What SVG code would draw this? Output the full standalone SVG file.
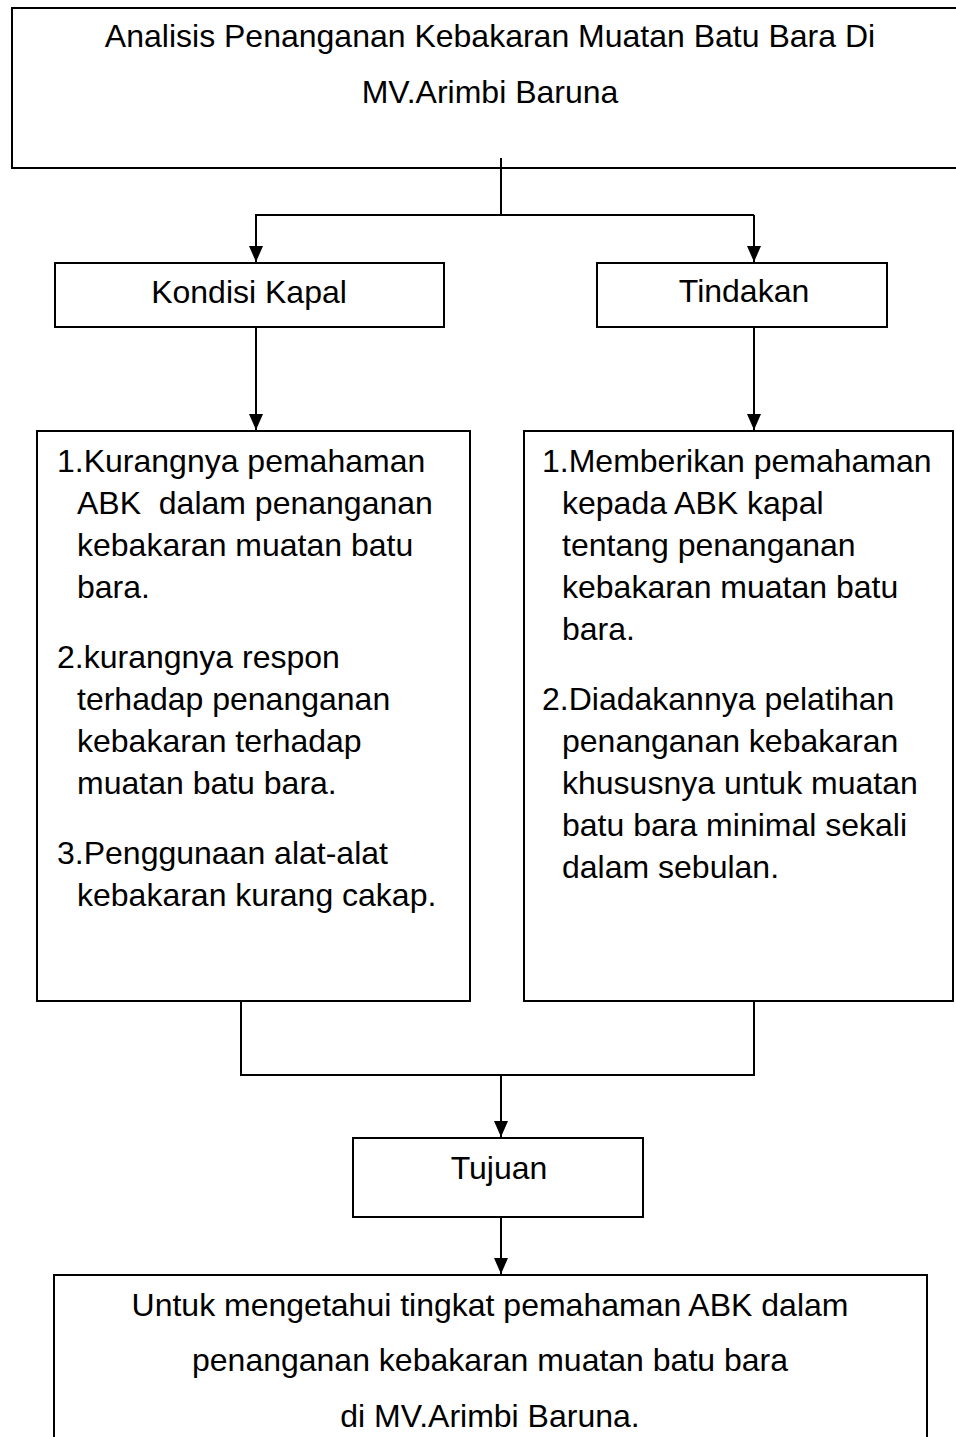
<svg xmlns="http://www.w3.org/2000/svg" width="956" height="1437" viewBox="0 0 956 1437">
<style>
.box{fill:#fff;stroke:#000;stroke-width:2}
.con{fill:none;stroke:#000;stroke-width:2}
text{font-family:"Liberation Sans",Arial,sans-serif;font-size:32px;fill:#000}
.c{text-anchor:middle}
.pre{white-space:pre}
</style>
<defs>
<marker id="arr" markerUnits="userSpaceOnUse" markerWidth="16" markerHeight="14" viewBox="0 0 16 14" refX="16" refY="7" orient="auto">
<path d="M0,0 L16,7 L0,14 Z" fill="#000"/>
</marker>
</defs>
<rect width="956" height="1437" fill="#fff"/>
<g id="judul">
<rect class="box" x="12" y="8" width="956" height="160"/>
<text class="c" x="490" y="47">Analisis Penanganan Kebakaran Muatan Batu Bara Di</text>
<text class="c" x="490" y="103">MV.Arimbi Baruna</text>
</g>
<g id="kondisi">
<rect class="box" x="55" y="263" width="389" height="64"/>
<text class="c" x="249" y="303">Kondisi Kapal</text>
</g>
<g id="tindakan">
<rect class="box" x="597" y="263" width="290" height="64"/>
<text class="c" x="744" y="302">Tindakan</text>
</g>
<g id="kondisi-isi">
<rect class="box" x="37" y="431" width="433" height="570"/>
<text x="57" y="472">1.Kurangnya pemahaman</text>
<text class="pre" x="77" y="514">ABK  dalam penanganan</text>
<text x="77" y="556">kebakaran muatan batu</text>
<text x="77" y="598">bara.</text>
<text x="57" y="668">2.kurangnya respon</text>
<text x="77" y="710">terhadap penanganan</text>
<text x="77" y="752">kebakaran terhadap</text>
<text x="77" y="794">muatan batu bara.</text>
<text x="57" y="864">3.Penggunaan alat-alat</text>
<text x="77" y="906">kebakaran kurang cakap.</text>
</g>
<g id="tindakan-isi">
<rect class="box" x="524" y="431" width="429" height="570"/>
<text x="542" y="472">1.Memberikan pemahaman</text>
<text x="562" y="514">kepada ABK kapal</text>
<text x="562" y="556">tentang penanganan</text>
<text x="562" y="598">kebakaran muatan batu</text>
<text x="562" y="640">bara.</text>
<text x="542" y="710">2.Diadakannya pelatihan</text>
<text x="562" y="752">penanganan kebakaran</text>
<text x="562" y="794">khususnya untuk muatan</text>
<text x="562" y="836">batu bara minimal sekali</text>
<text x="562" y="878">dalam sebulan.</text>
</g>
<g id="tujuan">
<rect class="box" x="353" y="1138" width="290" height="79"/>
<text class="c" x="499" y="1179">Tujuan</text>
</g>
<g id="hasil">
<rect class="box" x="54" y="1275" width="873" height="180"/>
<text class="c" x="490" y="1316">Untuk mengetahui tingkat pemahaman ABK dalam</text>
<text class="c" x="490" y="1371">penanganan kebakaran muatan batu bara</text>
<text class="c" x="490" y="1427">di MV.Arimbi Baruna.</text>
</g>
<g id="connectors">
<path class="con" d="M501,158 V215"/>
<path class="con" d="M255,215 H754"/>
<path class="con" d="M256,215 V262" marker-end="url(#arr)"/>
<path class="con" d="M754,215 V262" marker-end="url(#arr)"/>
<path class="con" d="M256,327 V430" marker-end="url(#arr)"/>
<path class="con" d="M754,327 V430" marker-end="url(#arr)"/>
<path class="con" d="M241,1001 V1075 H754 V1001"/>
<path class="con" d="M501,1075 V1137" marker-end="url(#arr)"/>
<path class="con" d="M501,1217 V1274" marker-end="url(#arr)"/>
</g>
</svg>
